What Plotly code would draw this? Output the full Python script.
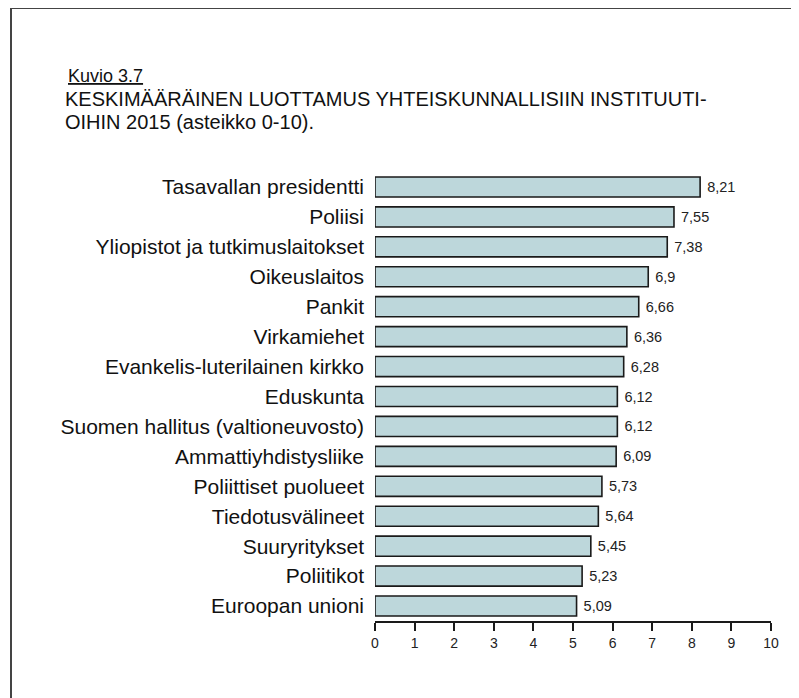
import plotly.graph_objects as go

categories = [
    "Tasavallan presidentti",
    "Poliisi",
    "Yliopistot ja tutkimuslaitokset",
    "Oikeuslaitos",
    "Pankit",
    "Virkamiehet",
    "Evankelis-luterilainen kirkko",
    "Eduskunta",
    "Suomen hallitus (valtioneuvosto)",
    "Ammattiyhdistysliike",
    "Poliittiset puolueet",
    "Tiedotusvälineet",
    "Suuryritykset",
    "Poliitikot",
    "Euroopan unioni",
]
values = [8.21, 7.55, 7.38, 6.9, 6.66, 6.36, 6.28, 6.12, 6.12, 6.09, 5.73, 5.64, 5.45, 5.23, 5.09]
x_ticks = list(range(0, 11))

labels = [str(v).replace(".", ",") for v in values]

FONT = "Liberation Sans, Arial, sans-serif"

# page has an 8px body margin; plot area spans page x 375..771, y 172..621
PX0, PX1, PY_TOP, PY_BOT = 375, 771, 172, 621
PW, PH = PX1 - PX0, PY_BOT - PY_TOP


def px(x):
    return (x - PX0) / PW


def py(y):
    return (PY_BOT - y) / PH


fig = go.Figure(
    go.Bar(
        y=categories,
        x=values,
        orientation="h",
        marker=dict(color="#bdd7db", line=dict(color="#1a1a1a", width=1.6)),
        text=labels,
        texttemplate=" %{text}",
        textposition="outside",
        textfont=dict(family=FONT, size=14.5, color="#222"),
        cliponaxis=False,
        width=0.67,
    )
)

fig.update_layout(
    width=791,
    height=690,
    margin=dict(l=PX0 - 8, r=799 - PX1, t=PY_TOP - 8, b=698 - PY_BOT),
    paper_bgcolor="white",
    plot_bgcolor="white",
    showlegend=False,
    font=dict(family=FONT, color="#111"),
    uniformtext=dict(minsize=8, mode="show"),
    xaxis=dict(
        range=[0, 10],
        tickvals=x_ticks,
        ticktext=[str(t) for t in x_ticks],
        showgrid=False,
        zeroline=False,
        showline=True,
        linecolor="#1a1a1a",
        linewidth=1.6,
        ticks="outside",
        ticklen=8,
        tickwidth=1.6,
        tickcolor="#1a1a1a",
        tickfont=dict(size=14, color="#222"),
        fixedrange=True,
    ),
    yaxis=dict(
        categoryorder="array",
        categoryarray=categories[::-1],
        showgrid=False,
        zeroline=False,
        showline=False,
        ticks="",
        ticklabelstandoff=10,
        tickfont=dict(size=21, color="#111"),
        range=[-0.5, 14.5],
        fixedrange=True,
    ),
    annotations=[
        dict(
            text="<u>Kuvio 3.7</u>",
            xref="paper", yref="paper",
            x=px(66), y=py(76),
            xanchor="left", yanchor="middle",
            showarrow=False,
            font=dict(size=18, color="#111"),
        ),
        dict(
            text="KESKIMÄÄRÄINEN LUOTTAMUS YHTEISKUNNALLISIIN INSTITUUTI-",
            xref="paper", yref="paper",
            x=px(63), y=py(98.5),
            xanchor="left", yanchor="middle",
            showarrow=False,
            font=dict(size=20, color="#111"),
        ),
        dict(
            text="OIHIN 2015 (asteikko 0-10).",
            xref="paper", yref="paper",
            x=px(63), y=py(121.5),
            xanchor="left", yanchor="middle",
            showarrow=False,
            font=dict(size=20, color="#111"),
        ),
    ],
    shapes=[
        dict(
            type="rect",
            xref="paper", yref="paper",
            x0=px(11), x1=px(830),
            y0=py(760), y1=py(8),
            line=dict(color="#444", width=2),
            fillcolor="rgba(0,0,0,0)",
            layer="below",
        )
    ],
)

fig.write_html("out.html")
